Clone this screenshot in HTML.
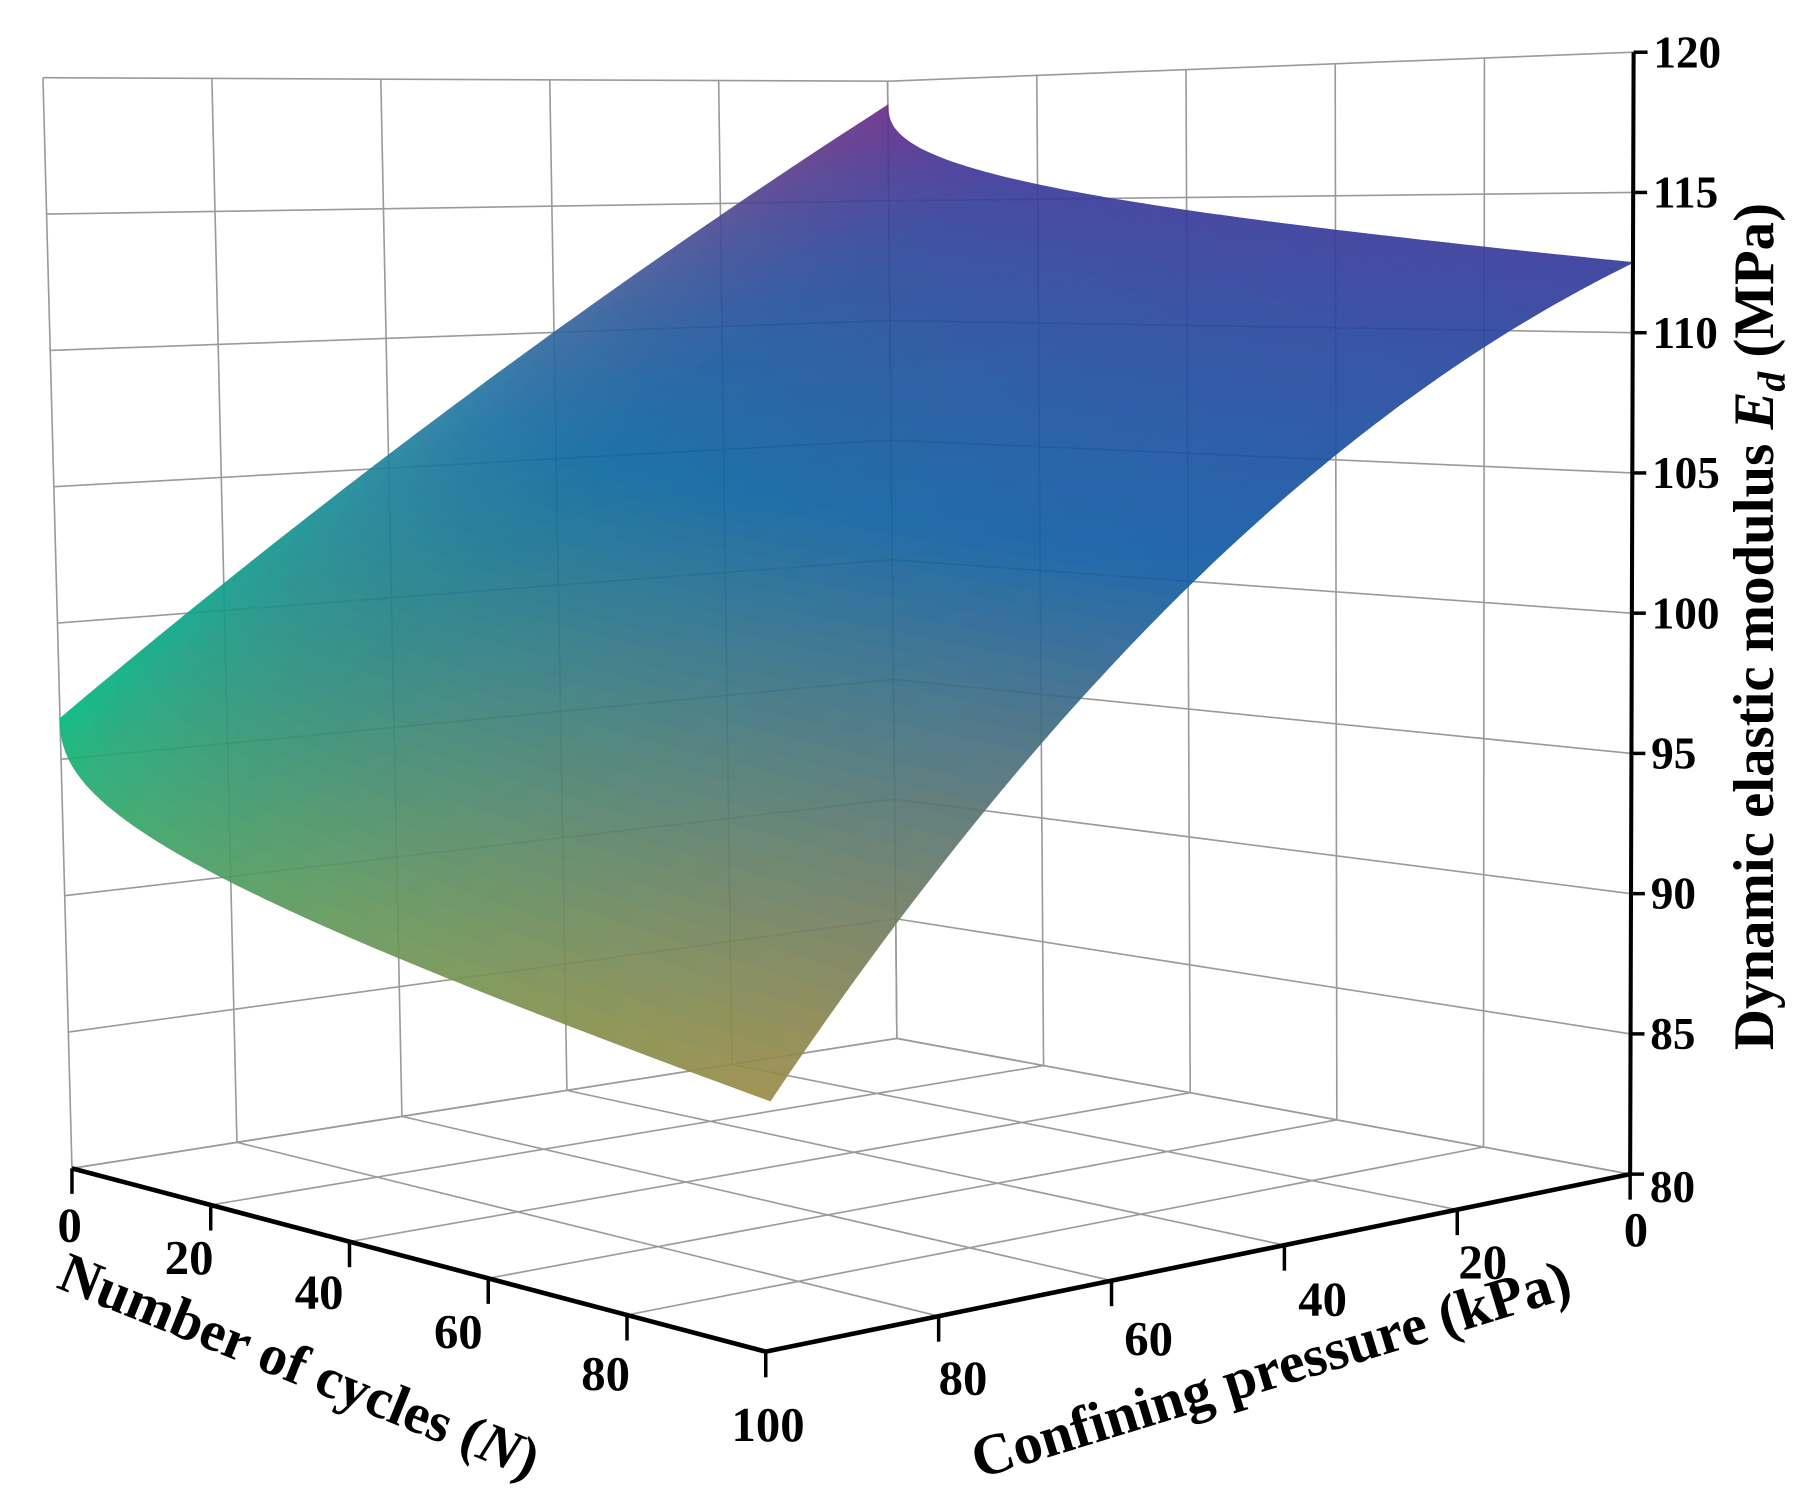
<!DOCTYPE html>
<html><head><meta charset="utf-8"><style>
html,body{margin:0;padding:0;background:#fff;}
svg{display:block;}
text{font-family:"Liberation Serif",serif;font-weight:bold;fill:#000;}
</style></head><body>
<svg id="s" width="1810" height="1499" viewBox="0 0 1560 1292" xmlns="http://www.w3.org/2000/svg">
<g id="grid" stroke="#9a9a9a" stroke-width="1.4" fill="none"></g>
<g id="surf" opacity="0.92"></g>
<g id="axes" stroke="#000" fill="none"></g>
<g font-size="42">
<text x="60" y="1070" text-anchor="middle">0</text>
<text x="163" y="1098" text-anchor="middle">20</text>
<text x="275" y="1128" text-anchor="middle">40</text>
<text x="395" y="1162" text-anchor="middle">60</text>
<text x="522" y="1198" text-anchor="middle">80</text>
<text x="662" y="1242" text-anchor="middle">100</text>
<text x="830" y="1202" text-anchor="middle">80</text>
<text x="990" y="1168" text-anchor="middle">60</text>
<text x="1140" y="1134" text-anchor="middle">40</text>
<text x="1278" y="1102" text-anchor="middle">20</text>
<text x="1410" y="1074" text-anchor="middle">0</text>
</g>
<g font-size="39" id="zl"></g>
<text font-size="49" transform="translate(252,1192) rotate(22)" text-anchor="middle">Number of cycles (<tspan font-style="italic">N</tspan>)</text>
<text font-size="50" transform="translate(1100,1196) rotate(-17)" text-anchor="middle">Confining pressure (kPa)</text>
<text font-size="49" transform="translate(1528,540) rotate(-90)" text-anchor="middle">Dynamic elastic modulus <tspan font-style="italic">E</tspan><tspan font-style="italic" font-size="34" dy="10">d</tspan><tspan dy="-10"> (MPa)</tspan></text>
</svg>
<script>
var NS="http://www.w3.org/2000/svg";
var Bb=[773,895],Rb=[1405,1012],Fb=[660,1165],Ab=[62,1007];
var Bt=[765,70],Rt=[1408,45],Ft=[680,42],At=[37,67];
function bil(p00,p10,p11,p01,u,v){
  return [p00[0]*(1-u)*(1-v)+p10[0]*u*(1-v)+p11[0]*u*v+p01[0]*(1-u)*v,
          p00[1]*(1-u)*(1-v)+p10[1]*u*(1-v)+p11[1]*u*v+p01[1]*(1-u)*v];}
function proj(N,P,z){var u=N/100,v=P/100,w=(z-80)/40;
  var b=bil(Bb,Rb,Fb,Ab,u,v),t=bil(Bt,Rt,Ft,At,u,v);
  return [b[0]+(t[0]-b[0])*w,b[1]+(t[1]-b[1])*w];}
function el(p,tag,a){var e=document.createElementNS(NS,tag);for(var k in a)e.setAttribute(k,a[k]);p.appendChild(e);return e;}
var g=document.getElementById('grid');
function line(p,q){el(g,'line',{x1:p[0],y1:p[1],x2:q[0],y2:q[1]});}
for(var i=0;i<=100;i+=20){
  line(proj(i,0,80),proj(i,100,80)); line(proj(0,i,80),proj(100,i,80));
  line(proj(0,i,80),proj(0,i,120));
  line(proj(i,0,80),proj(i,0,120));
}
for(var z=80;z<=120;z+=5){line(proj(0,100,z),proj(0,0,z));line(proj(0,0,z),proj(100,0,z));}
function Z(N,P){var v=P/100;var base=119-22.5*v,end=112.5-13.7*v-11.1*v*v;var f=Math.pow(N/100,0.4);return base-(base-end)*f;}
var C=[[[108,45,135],[60,58,155],[55,58,155]],
       [[40,120,165],[12,104,160],[18,92,165]],
       [[0,185,125],[70,160,100],[155,140,70]]];
function lerp(a,b,t){return [0,1,2].map(function(k){return a[k]+(b[k]-a[k])*t;});}
function q3(a,b,c,t){return t<0.5?lerp(a,b,t*2):lerp(b,c,(t-0.5)*2);}
function col(N,P){var u=Math.pow(N/100,0.4),v=P/100;
  var r0=q3(C[0][0],C[0][1],C[0][2],u),r1=q3(C[1][0],C[1][1],C[1][2],u),r2=q3(C[2][0],C[2][1],C[2][2],u);
  return q3(r0,r1,r2,v).map(Math.round);}
var s=document.getElementById('surf'),n=60,quads=[];
function Nt(a){var t=a/n;return 100*t*t;}
for(var a=0;a<n;a++)for(var b=0;b<n;b++){var N0=Nt(a),N1=Nt(a+1),P0=b*100/n,P1=(b+1)*100/n;
  quads.push({d:N0+P0,c:[(N0+N1)/2,(P0+P1)/2],pts:[[N0,P0],[N1,P0],[N1,P1],[N0,P1]]});}
quads.sort(function(x,y){return x.d-y.d;});
quads.forEach(function(q){var pts=q.pts.map(function(p){var z=Z(p[0],p[1]);var r=proj(p[0],p[1],z);return r[0].toFixed(1)+','+r[1].toFixed(1);}).join(' ');
  var c=col(q.c[0],q.c[1]);var cs='rgb('+c.join(',')+')';el(s,'polygon',{points:pts,fill:cs,stroke:cs,'stroke-width':0.8});});
var ax=document.getElementById('axes');
function L(p,q,w){el(ax,'line',{x1:p[0],y1:p[1],x2:q[0],y2:q[1],'stroke-width':w});}
L(Ab,Fb,4);L(Fb,Rb,4);L(Rb,Rt,3.5);
for(var i=0;i<=100;i+=20){var p=proj(i,100,80);L(p,[p[0],p[1]+22],3);var q=proj(100,i,80);L(q,[q[0],q[1]+22],3);}
var zl=document.getElementById('zl');
for(var z=80;z<=120;z+=5){var p=proj(100,0,z);L(p,[p[0]+12,p[1]],3);
  var t=el(zl,'text',{x:p[0]+17,y:p[1]+(z==80?24:13)});t.textContent=z;}
</script>
</body></html>
